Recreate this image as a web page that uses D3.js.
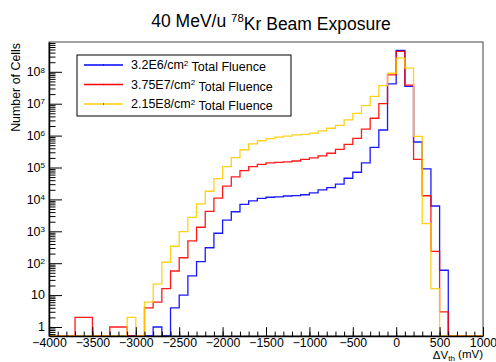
<!DOCTYPE html>
<html>
<head>
<meta charset="utf-8">
<script src="https://cdn.jsdelivr.net/npm/d3@7"></script>
<style>
  body { margin: 0; background: #fff; }
  svg { display: block; font-family: "Liberation Sans", Arial, Helvetica, sans-serif; }
</style>
</head>
<body>
<div id="chart"></div>
<script>
// bins of 100 mV from -4000 to 1000
const binLow = d3.range(-4000, 1000, 100);

const seriesNames = ['3.2E6', '3.75E7', '2.15E8'];
const seriesColors = ['#0000ff', '#ff0000', '#ffcc00'];

const fluenceLow = [
  0, 0, 0, 0, 0, 0, 0, 0, 0, 0,
  0, 0, 1, 0, 4, 10, 40, 112, 305, 870,
  2250, 4100, 7000, 9000, 10800, 11700, 12000, 12800, 13200, 14000,
  16000, 20000, 23500, 30000, 46000, 71000, 140000, 430000, 1.5e6, 4.2e7,
  4.7e8, 3.5e7, 6.3e5, 9.1e4, 6200, 60, 0, 0, 0, 0
];
const fluenceMid = [
  0, 0, 0, 2, 2, 0, 0, 1, 1, 0,
  0, 4, 6, 16, 57, 148, 500, 1340, 4200, 11000,
  26000, 51000, 80000, 107000, 126000, 140000, 145000, 150000, 160000, 180000,
  200000, 230000, 280000, 370000, 530000, 820000, 1.6e6, 3.5e6, 1e7, 8e7,
  4.4e8, 3.8e7, 1.8e5, 1.3e4, 235, 3, 0, 0, 0, 0
];
const fluenceHigh = [
  0, 0, 0, 0, 0, 0, 0, 0, 0, 2,
  0, 6, 22, 107, 340, 970, 2750, 7200, 18000, 45000,
  106000, 205000, 360000, 550000, 690000, 800000, 890000, 970000, 1.05e6, 1.1e6,
  1.2e6, 1.4e6, 1.7e6, 2.1e6, 3.1e6, 5e6, 8.7e6, 1.7e7, 3.7e7, 9e7,
  2.7e8, 1.3e8, 9.5e5, 1740, 16, 0, 0, 0, 0, 0
];
const seriesValues = [fluenceLow, fluenceMid, fluenceHigh];

const xTickValues = [-4000, -3500, -3000, -2500, -2000, -1500, -1000, -500, 0, 500, 1000];
const yTickPowers = [0, 1, 2, 3, 4, 5, 6, 7, 8];

const W = 496, H = 362;
const margin = { top: 42, right: 13, bottom: 26, left: 49 };
const pw = W - margin.left - margin.right;
const ph = H - margin.top - margin.bottom;

const svg = d3.select('#chart').append('svg')
  .attr('width', W)
  .attr('height', H);

const x = d3.scaleLinear().domain([-4000, 1000]).range([0, pw]);
const y = d3.scaleLog().domain([0.522, 8.6e8]).range([ph, 0]);

const g = svg.append('g')
  .attr('transform', `translate(${margin.left},${margin.top})`);

// frame
g.append('rect')
  .attr('width', pw)
  .attr('height', ph)
  .attr('fill', 'none')
  .attr('stroke', '#444')
  .attr('stroke-width', 1);

// histograms
g.append('clipPath').attr('id', 'clip')
  .append('rect').attr('x', 0).attr('y', 0).attr('width', pw).attr('height', ph + 1);

const line = d3.line()
  .x(d => x(d[0]))
  .y(d => y(Math.max(d[1], y.domain()[0])))
  .curve(d3.curveStepAfter);

seriesValues.forEach((vals, i) => {
  const pts = binLow.map((b, j) => [b, vals[j]]);
  pts.push([1000, vals[vals.length - 1]]);
  g.append('path')
    .attr('clip-path', 'url(#clip)')
    .attr('d', line(pts))
    .attr('fill', 'none')
    .attr('stroke', seriesColors[i])
    .attr('stroke-width', 1.3)
    .attr('stroke-opacity', 0.9);
});

// x axis
g.append('g')
  .attr('transform', `translate(0,${ph})`)
  .call(d3.axisBottom(x).tickValues(d3.range(-4000, 1001, 100)).tickSize(-4.4).tickSizeOuter(0).tickFormat(''))
  .call(a => a.select('.domain').remove());

const xAxis = g.append('g')
  .attr('transform', `translate(0,${ph})`)
  .call(d3.axisBottom(x).tickValues(xTickValues).tickSize(-8.8).tickSizeOuter(0).tickPadding(2)
    .tickFormat(d => d < 0 ? '\u2212' + Math.abs(d) : d));
xAxis.selectAll('text').style('font-size', '12.3px').attr('fill', '#000');
xAxis.select('.domain').attr('stroke-width', 1.5);

// y axis
const minorY = [];
yTickPowers.concat([-1]).forEach(p => {
  for (let k = 2; k <= 9; k++) {
    const v = k * Math.pow(10, p);
    if (v > y.domain()[0] && v < y.domain()[1]) minorY.push(v);
  }
});
g.append('g')
  .call(d3.axisLeft(y).tickValues(minorY).tickSize(-6.5).tickSizeOuter(0).tickFormat(''))
  .call(a => a.select('.domain').remove());

const yAxis = g.append('g')
  .call(d3.axisLeft(y).tickValues(yTickPowers.map(p => Math.pow(10, p))).tickSize(-13).tickSizeOuter(0).tickFormat(''));
yAxis.select('.domain').attr('stroke-width', 1.5);

yTickPowers.forEach(p => {
  const t = g.append('text')
    .attr('x', -4)
    .attr('y', y(Math.pow(10, p)))
    .attr('dy', '0.35em')
    .attr('text-anchor', 'end')
    .style('font-size', '12.5px');
  if (p === 0) t.text('1');
  else if (p === 1) t.text('10');
  else {
    t.append('tspan').text('10');
    t.append('tspan').attr('dy', '-0.45em').style('font-size', '8px').text(p);
  }
});

// axis titles
svg.append('text')
  .attr('transform', `translate(20,${margin.top + 1}) rotate(-90)`)
  .attr('text-anchor', 'end')
  .style('font-size', '12.4px')
  .text('Number of Cells');

const xt = svg.append('text')
  .attr('x', margin.left + pw)
  .attr('y', 359)
  .attr('text-anchor', 'end')
  .style('font-size', '11.5px');
xt.append('tspan').text('\u0394V');
xt.append('tspan').attr('dy', '0.2em').style('font-size', '8px').text('th');
xt.append('tspan').attr('dy', '-0.2em').text(' (mV)');

// title
const title = svg.append('text')
  .attr('x', 271)
  .attr('y', 27)
  .attr('text-anchor', 'middle')
  .style('font-size', '17.5px');
title.append('tspan').text('40 MeV/u ');
title.append('tspan').attr('dy', '-0.45em').style('font-size', '11.5px').text('78');
title.append('tspan').attr('dy', '0.45em').text('Kr Beam Exposure');

// legend
const legend = svg.append('g').attr('transform', 'translate(77,55)');
legend.append('rect')
  .attr('width', 214)
  .attr('height', 61)
  .attr('fill', '#fff')
  .attr('stroke', '#000')
  .attr('stroke-width', 1);

seriesNames.forEach((name, i) => {
  const ly = 10 + i * 19.5;
  legend.append('line')
    .attr('x1', 7).attr('x2', 46)
    .attr('y1', ly).attr('y2', ly)
    .attr('stroke', seriesColors[i])
    .attr('stroke-width', 1.3);
  legend.append('rect')
    .attr('x', 26).attr('y', ly - 0.5).attr('width', 1).attr('height', 1)
    .attr('fill', '#000');
  const t = legend.append('text')
    .attr('x', 54)
    .attr('y', ly)
    .attr('dy', '0.35em')
    .style('font-size', '12.5px');
  t.append('tspan').text(name + '/cm');
  t.append('tspan').attr('dy', '-0.45em').style('font-size', '8px').text('2');
  t.append('tspan').attr('dy', '0.45em').text(' Total Fluence');
});
</script>
</body>
</html>
